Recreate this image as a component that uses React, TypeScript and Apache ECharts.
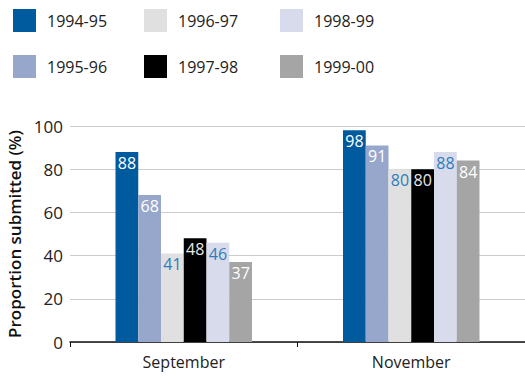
import React, { useEffect, useRef } from "react";
import * as echarts from "echarts";

const categories = ["September", "November"];
const seriesNames = ["1994-95", "1995-96", "1996-97", "1997-98", "1998-99", "1999-00"];
const values = [
  [88, 98],
  [68, 91],
  [41, 80],
  [48, 80],
  [46, 88],
  [37, 84],
];
const barColors = ["#005b9e", "#97a7cb", "#e0e0e0", "#000000", "#d8dbeb", "#a5a5a5"];
const labelColors = ["#ffffff", "#ffffff", "#2f7bbd", "#e8e8e8", "#2f7bbd", "#ffffff"];
const yTicks = { min: 0, max: 100, interval: 20 };

const FONT = "'Open Sans', 'Noto Sans', sans-serif";

export default function App() {
  const ref = useRef<HTMLDivElement>(null);
  useEffect(() => {
    if (!ref.current) return;
    const chart = echarts.init(ref.current, undefined, { renderer: "svg" });
    const legendCols = [
      [seriesNames[0], seriesNames[1], 8],
      [seriesNames[2], seriesNames[3], 139],
      [seriesNames[4], seriesNames[5], 275],
    ];
    chart.setOption({
      animation: false,
      textStyle: { fontFamily: FONT },
      legend: legendCols.map((c) => ({
        data: [c[0], c[1]],
        orient: "vertical",
        left: c[2],
        top: 4,
        padding: 5,
        itemWidth: 23,
        itemHeight: 23,
        itemGap: 23,
        icon: "rect",
        textStyle: { fontSize: 16, color: "#222", fontFamily: FONT, padding: [0, 0, 0, 6], lineHeight: 23 },
        selectedMode: false,
      })),
      grid: { left: 70, right: 0, top: 126, bottom: 41, containLabel: false, outerBoundsMode: "none" },
      xAxis: {
        type: "category",
        data: categories,
        axisLine: { lineStyle: { color: "#111", width: 1.5 } },
        axisTick: { show: true, length: 5, lineStyle: { color: "#111" } },
        axisLabel: { fontSize: 16, color: "#222", margin: 12, fontFamily: FONT },
      },
      yAxis: {
        type: "value",
        min: yTicks.min,
        max: yTicks.max,
        interval: yTicks.interval,
        name: "Proportion submitted (%)",
        nameLocation: "middle",
        nameRotate: 90,
        nameGap: 46,
        nameTextStyle: { fontSize: 17, color: "#111", fontWeight: 600, fontFamily: FONT },
        axisLine: { show: false },
        axisTick: { show: false },
        axisLabel: { fontSize: 17, color: "#222", margin: 7, fontFamily: FONT },
        splitLine: { lineStyle: { color: "#cccccc", width: 1.2 } },
      },
      series: seriesNames.map((name, i) => ({
        name,
        type: "bar",
        data: values[i],
        barGap: "0%",
        barCategoryGap: "40%",
        itemStyle: { color: barColors[i] },
        label: {
          show: true,
          position: "insideTop",
          distance: 3,
          fontSize: 16,
          color: labelColors[i],
          fontFamily: FONT,
        },
      })),
    });
    return () => chart.dispose();
  }, []);
  return <div ref={ref} style={{ width: 525, height: 383, position: "absolute", left: 0, top: 0 }} />;
}
